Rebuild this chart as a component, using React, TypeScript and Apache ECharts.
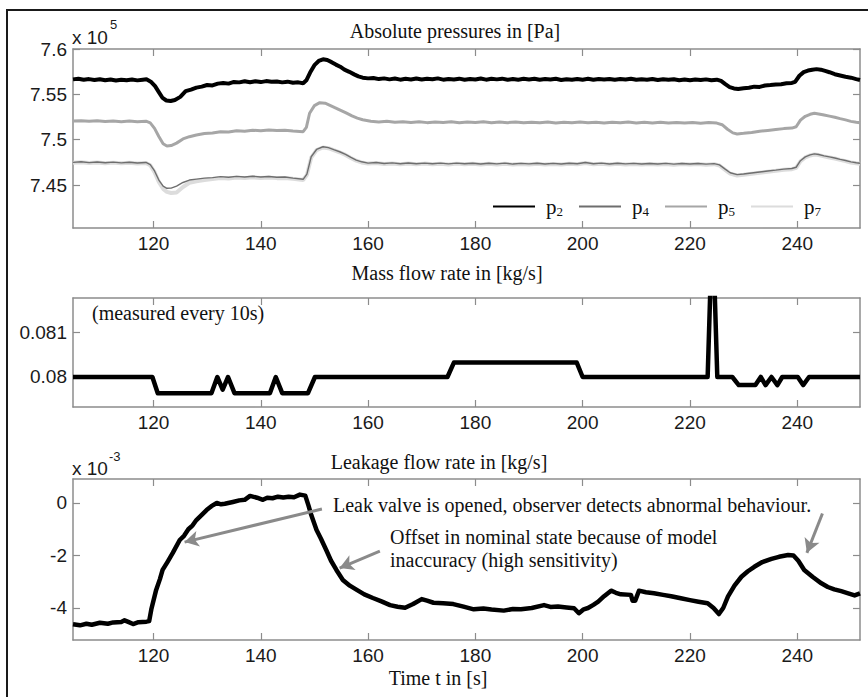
import React, { useEffect, useRef } from "react";
import * as echarts from "echarts";

// ---------- data ----------
const timeTicks = [120, 140, 160, 180, 200, 220, 240];
const pressureTicks = [7.45, 7.5, 7.55, 7.6];
const flowTicks = [0.08, 0.081];
const leakTicks = [-4, -2, 0];

const seriesNames = ["p2", "p4", "p5", "p7"];

// absolute pressures (x 10^5 Pa)
const p2: [number, number][] = [
  [105, 7.5665], [106, 7.5672], [107, 7.566], [108, 7.5668], [109, 7.5659], [110, 7.5667], [111, 7.5656], [112, 7.5664],
  [113, 7.5652], [114, 7.5661], [115, 7.5655], [116, 7.5663], [117, 7.5654], [118, 7.5662], [118.7, 7.5666], [119.5, 7.564],
  [120.3, 7.559], [121, 7.5525], [121.7, 7.546], [122.4, 7.5432], [123.2, 7.5426], [124, 7.5438], [125, 7.5472], [126, 7.5535],
  [127, 7.5552], [128, 7.5574], [129, 7.5585], [130, 7.5603], [131, 7.5598], [132, 7.5618], [133, 7.5626], [134, 7.5618],
  [135, 7.5637], [136, 7.5632], [137, 7.5645], [138, 7.5633], [139, 7.5644], [140, 7.5635], [141, 7.5646], [142, 7.5638],
  [143, 7.5642], [144, 7.5632], [145, 7.564], [146, 7.5628], [147, 7.5632], [147.9, 7.5622], [148.5, 7.5655], [149.2, 7.574],
  [150, 7.5822], [150.8, 7.5868], [151.6, 7.5886], [152.4, 7.5878], [153.2, 7.5855], [154, 7.5828], [154.8, 7.5805], [155.6, 7.5772],
  [156.5, 7.5748], [157.4, 7.572], [158.2, 7.5698], [159, 7.5684], [160, 7.5676], [161, 7.5681], [162, 7.5668], [163, 7.5676],
  [164, 7.5665], [165, 7.5674], [166, 7.5662], [167, 7.5671], [168, 7.5664], [169, 7.5675], [170, 7.5663], [171, 7.5672],
  [172, 7.5666], [173, 7.5676], [174, 7.5662], [175, 7.567], [176, 7.5664], [177, 7.5673], [178, 7.5661], [179, 7.5668],
  [180, 7.5663], [181, 7.5674], [182, 7.5662], [183, 7.5671], [184, 7.5665], [185, 7.5673], [186, 7.5661], [187, 7.5669],
  [188, 7.5662], [189, 7.5671], [190, 7.5664], [191, 7.5672], [192, 7.566], [193, 7.5668], [194, 7.5663], [195, 7.5671],
  [196, 7.5659], [197, 7.5667], [198, 7.5661], [199, 7.567], [200, 7.5662], [201, 7.5671], [202, 7.566], [203, 7.5669],
  [204, 7.5663], [205, 7.567], [206, 7.5661], [207, 7.5668], [208, 7.5664], [209, 7.5672], [210, 7.566], [211, 7.5667],
  [212, 7.5662], [213, 7.567], [214, 7.5658], [215, 7.5666], [216, 7.566], [217, 7.5667], [218, 7.5656], [219, 7.5663],
  [220, 7.5655], [221, 7.5664], [222, 7.5657], [223, 7.5665], [224, 7.5656], [225, 7.5662], [225.8, 7.5648], [226.6, 7.5612],
  [227.4, 7.558], [228.2, 7.5565], [229, 7.5558], [230, 7.5566], [231, 7.5572], [232, 7.5585], [233, 7.5582], [234, 7.5598],
  [235, 7.5602], [236, 7.5608], [237, 7.5612], [238, 7.5622], [239, 7.5626], [239.6, 7.5638], [240.4, 7.5705], [241.2, 7.5745],
  [242, 7.5762], [242.8, 7.5772], [243.6, 7.5778], [244.4, 7.5772], [245.2, 7.5758], [246, 7.5744], [247, 7.5722], [248, 7.5708],
  [249, 7.5694], [250, 7.5684], [251, 7.5668], [251.7, 7.5658],
];

const p5: [number, number][] = [
  [105, 7.5205], [106.5, 7.521], [108, 7.5202], [109.5, 7.5209], [111, 7.52], [112.5, 7.5207], [114, 7.5199], [115.5, 7.5206],
  [117, 7.5198], [118.6, 7.5204], [119.4, 7.5185], [120.2, 7.5125], [121, 7.5035], [121.8, 7.4955], [122.5, 7.493], [123.3, 7.4935],
  [124.3, 7.4962], [125.5, 7.5008], [126.7, 7.5033], [128, 7.5052], [129.5, 7.5068], [131, 7.5074], [132.5, 7.5088], [134, 7.5085],
  [135.5, 7.5098], [137, 7.5094], [138.5, 7.5105], [140, 7.5098], [141.5, 7.5108], [143, 7.51], [144.5, 7.5105], [146, 7.5095],
  [147.9, 7.5088], [148.5, 7.5135], [149.1, 7.5291], [150, 7.5375], [151, 7.5408], [152, 7.5402], [153, 7.5376], [154, 7.5348],
  [155, 7.532], [156, 7.5292], [157, 7.5262], [158, 7.5238], [159, 7.522], [160.5, 7.5203], [162, 7.5196], [163.5, 7.5203],
  [165, 7.5192], [166.5, 7.5199], [168, 7.519], [169.5, 7.5198], [171, 7.5188], [172.5, 7.5196], [174, 7.519], [175.5, 7.5197],
  [177, 7.5186], [178.5, 7.5195], [180, 7.5189], [181.5, 7.5197], [183, 7.5187], [184.5, 7.5194], [186, 7.5188], [187.5, 7.5196],
  [189, 7.5186], [190.5, 7.5193], [192, 7.5187], [193.5, 7.5195], [195, 7.5185], [196.5, 7.5193], [198, 7.5187], [199.5, 7.5194],
  [201, 7.5186], [202.5, 7.5192], [204, 7.5185], [205.5, 7.5193], [207, 7.5186], [208.5, 7.5194], [210, 7.5185], [211.5, 7.5192],
  [213, 7.5184], [214.5, 7.5191], [216, 7.5184], [217.5, 7.519], [219, 7.5183], [220.5, 7.519], [222, 7.5182], [223.5, 7.5189],
  [225, 7.5183], [226, 7.5165], [227, 7.5115], [228, 7.5075], [228.8, 7.5063], [230, 7.507], [231.5, 7.508], [233, 7.5092],
  [234.5, 7.5102], [236, 7.5112], [237.5, 7.5122], [239, 7.5128], [239.8, 7.5142], [240.6, 7.5215], [241.5, 7.5258], [242.4, 7.528],
  [243.2, 7.5291], [244, 7.5284], [245, 7.5272], [246, 7.526], [247, 7.5248], [248, 7.5232], [249, 7.5218], [250, 7.5202],
  [251, 7.5192], [251.7, 7.5187],
];

const p4: [number, number][] = [
  [105, 7.475], [106.5, 7.4756], [108, 7.4747], [109.5, 7.4754], [111, 7.4745], [112.5, 7.4752], [114, 7.4744], [115.5, 7.4751],
  [117, 7.4743], [118.6, 7.4749], [119.4, 7.4725], [120.2, 7.4655], [121, 7.4555], [121.8, 7.4488], [122.5, 7.4464], [123.3, 7.4466],
  [124.3, 7.4488], [125.5, 7.4528], [126.7, 7.4555], [128, 7.4565], [129.5, 7.4576], [131, 7.4582], [132.5, 7.4592], [134, 7.4586],
  [135.5, 7.4595], [137, 7.4588], [138.5, 7.4596], [140, 7.4589], [141.5, 7.4594], [143, 7.4586], [144.5, 7.4588], [146, 7.4576],
  [147.9, 7.4563], [148.6, 7.462], [149.4, 7.4812], [150.4, 7.4892], [151.6, 7.4922], [152.6, 7.4912], [153.6, 7.489], [154.7, 7.4867],
  [155.8, 7.4838], [156.8, 7.4805], [157.8, 7.4775], [158.8, 7.4756], [160, 7.4742], [161.5, 7.4748], [163, 7.4737], [164.5, 7.4744],
  [166, 7.4735], [167.5, 7.4743], [169, 7.4734], [170.5, 7.4742], [172, 7.4735], [173.5, 7.4741], [175, 7.4733], [176.5, 7.4742],
  [178, 7.4734], [179.5, 7.474], [181, 7.4732], [182.5, 7.474], [184, 7.4733], [185.5, 7.4741], [187, 7.4731], [188.5, 7.4739],
  [190, 7.4733], [191.5, 7.474], [193, 7.4731], [194.5, 7.4739], [196, 7.4732], [197.5, 7.474], [199, 7.4734], [200.5, 7.4748],
  [202, 7.4735], [203.5, 7.4741], [205, 7.4732], [206.5, 7.474], [208, 7.4733], [209.5, 7.4739], [211, 7.4731], [212.5, 7.4738],
  [214, 7.4732], [215.5, 7.4739], [217, 7.473], [218.5, 7.4737], [220, 7.4731], [221.5, 7.4738], [223, 7.473], [224.5, 7.4736],
  [225.5, 7.4722], [226.5, 7.4678], [227.5, 7.4635], [228.8, 7.4615], [230, 7.4622], [231.5, 7.4633], [233, 7.4644], [234.5, 7.4655],
  [236, 7.4664], [237.5, 7.4675], [239, 7.4682], [239.8, 7.4696], [240.6, 7.4768], [241.5, 7.481], [242.4, 7.4832], [243.2, 7.4843],
  [244, 7.4836], [245, 7.4822], [246, 7.481], [247, 7.4798], [248, 7.4783], [249, 7.477], [250, 7.4755], [251, 7.4745], [251.7, 7.474],
];

const p7: [number, number][] = [
  [105, 7.4746], [106.5, 7.4751], [108, 7.4742], [109.5, 7.4749], [111, 7.474], [112.5, 7.4747], [114, 7.4739], [115.5, 7.4746],
  [117, 7.4738], [118.6, 7.4744], [119.4, 7.4718], [120.2, 7.4642], [121, 7.4535], [121.8, 7.4458], [122.5, 7.4425], [123.3, 7.4412],
  [124.3, 7.4418], [125.5, 7.4478], [126.7, 7.4525], [128, 7.4542], [129.5, 7.4556], [131, 7.4565], [132.5, 7.4576], [134, 7.4572],
  [135.5, 7.4582], [137, 7.4576], [138.5, 7.4585], [140, 7.4578], [141.5, 7.4584], [143, 7.4576], [144.5, 7.4578], [146, 7.4568],
  [147.9, 7.4556], [148.6, 7.4612], [149.4, 7.4802], [150.4, 7.4885], [151.6, 7.4914], [152.6, 7.4906], [153.6, 7.4884], [154.7, 7.4861],
  [155.8, 7.4832], [156.8, 7.4798], [157.8, 7.4768], [158.8, 7.4749], [160, 7.4736], [161.5, 7.4742], [163, 7.4731], [164.5, 7.4738],
  [166, 7.4729], [167.5, 7.4737], [169, 7.4728], [170.5, 7.4736], [172, 7.4729], [173.5, 7.4735], [175, 7.4727], [176.5, 7.4736],
  [178, 7.4728], [179.5, 7.4734], [181, 7.4726], [182.5, 7.4734], [184, 7.4727], [185.5, 7.4735], [187, 7.4725], [188.5, 7.4733],
  [190, 7.4727], [191.5, 7.4734], [193, 7.4725], [194.5, 7.4733], [196, 7.4726], [197.5, 7.4734], [199, 7.4728], [200.5, 7.4742],
  [202, 7.4729], [203.5, 7.4735], [205, 7.4726], [206.5, 7.4734], [208, 7.4727], [209.5, 7.4733], [211, 7.4725], [212.5, 7.4732],
  [214, 7.4726], [215.5, 7.4733], [217, 7.4724], [218.5, 7.4731], [220, 7.4725], [221.5, 7.4732], [223, 7.4724], [224.5, 7.473],
  [225.5, 7.4715], [226.5, 7.467], [227.5, 7.4626], [228.8, 7.4605], [230, 7.4613], [231.5, 7.4625], [233, 7.4636], [234.5, 7.4647],
  [236, 7.4657], [237.5, 7.4668], [239, 7.4675], [239.8, 7.469], [240.6, 7.4762], [241.5, 7.4804], [242.4, 7.4826], [243.2, 7.4837],
  [244, 7.483], [245, 7.4816], [246, 7.4804], [247, 7.4792], [248, 7.4777], [249, 7.4764], [250, 7.4749], [251, 7.4739], [251.7, 7.4734],
];

// mass flow rate (kg/s)
const massFlow: [number, number][] = [
  [105, 0.08], [119.8, 0.08], [120.8, 0.07964], [130.8, 0.07964], [131.9, 0.08], [132.9, 0.07972], [133.9, 0.08], [135.1, 0.07964],
  [141.7, 0.07964], [142.8, 0.08], [144, 0.07964], [148.8, 0.07964], [150.1, 0.08], [174.8, 0.08], [176, 0.08032], [198.9, 0.08032],
  [200, 0.08], [223.3, 0.08], [224.2, 0.0835], [225.1, 0.08], [227.9, 0.08], [229.1, 0.07982], [232.2, 0.07982], [233.2, 0.08],
  [234.1, 0.07982], [235.2, 0.08], [236.3, 0.07982], [237.2, 0.08], [240.1, 0.08], [241.1, 0.07982], [242.2, 0.08], [251.7, 0.08],
];

// leakage flow rate (x 10^-3 kg/s)
const leakage: [number, number][] = [
  [105, -4.62], [106.3, -4.66], [107.5, -4.6], [108.5, -4.64], [110, -4.56], [111.5, -4.6], [112.5, -4.55], [114, -4.53],
  [114.6, -4.47], [115.3, -4.53], [116.2, -4.61], [117.2, -4.54], [118.7, -4.52], [119.2, -4.5], [119.6, -4.05], [120.5, -3.31],
  [121.2, -2.9], [121.7, -2.55], [122.6, -2.25], [123.6, -1.9], [124.9, -1.41], [125.7, -1.25], [126.5, -1.0], [127.3, -0.85],
  [128, -0.65], [129, -0.45], [129.9, -0.27], [130.8, -0.12], [131.8, 0], [132.6, -0.05], [133.3, -0.03], [134.8, 0.04],
  [136, 0.1], [137, 0.12], [138, 0.27], [139.3, 0.2], [140.4, 0.12], [141.2, 0.2], [142.2, 0.18], [143.2, 0.24],
  [144.2, 0.21], [145.2, 0.24], [146.2, 0.22], [147.3, 0.32], [148.3, 0.28], [148.9, -0.1], [149.4, -0.45], [150.4, -1.03],
  [151.2, -1.35], [152.2, -1.79], [153.1, -2.2], [154.1, -2.55], [155.3, -2.93], [156.6, -3.15], [157.9, -3.31], [159.3, -3.48],
  [160.9, -3.62], [162.5, -3.75], [164.1, -3.89], [165.5, -3.95], [166.9, -3.99], [168.4, -3.85], [170, -3.66], [171, -3.72],
  [172.2, -3.8], [174, -3.82], [175.9, -3.85], [177.8, -3.95], [179.7, -4.05], [181.5, -4.02], [183, -4.06], [185.3, -4.1],
  [187, -4.04], [188.5, -4.05], [190.5, -4.0], [192.8, -3.89], [194, -3.96], [195.4, -3.94], [197, -3.98], [198.4, -4.01],
  [199.3, -4.2], [200.2, -4.05], [201, -4.0], [202, -3.88], [202.9, -3.76], [204, -3.55], [205.3, -3.34], [206.2, -3.42],
  [207.1, -3.48], [209, -3.5], [209.3, -3.72], [209.8, -3.72], [210.5, -3.34], [211.8, -3.4], [213.3, -3.44], [215, -3.5],
  [216.5, -3.55], [218.3, -3.63], [220, -3.7], [221.6, -3.76], [223.3, -3.82], [224.4, -4.0], [225.4, -4.23], [226.2, -4.0],
  [227.1, -3.56], [228.3, -3.15], [229.6, -2.81], [230.8, -2.6], [232, -2.43], [233.5, -2.25], [235.2, -2.13], [236.6, -2.05],
  [238.3, -1.98], [239.3, -2.0], [240.2, -2.2], [241.3, -2.55], [242.9, -2.82], [244.5, -3.06], [245.7, -3.2], [246.9, -3.29],
  [248.2, -3.36], [249.5, -3.44], [250.7, -3.52], [251.7, -3.44],
];

// annotation arrows [tail, head] in data coordinates of the leakage panel
const arrowLines: [[number, number], [number, number]][] = [
  [[151.4, -0.23], [125.8, -1.49]],
  [[162.2, -1.83], [154.7, -2.48]],
  [[244.7, -0.4], [241.8, -1.9]],
];

// ---------- helpers ----------
const X_MIN = 105;
const X_MAX = 251.7;
const AXIS_COLOR = "#8c8c8c";
const SANS = "'Liberation Sans', Arial, sans-serif";
const SERIF = "'Liberation Serif', 'Times New Roman', serif";

const grids = [
  { left: 73, width: 787, top: 49, height: 179 },
  { left: 73, width: 787, top: 298, height: 109 },
  { left: 73, width: 787, top: 479, height: 161 },
];

function makeX(gridIndex: number, top: boolean) {
  return {
    type: "value",
    gridIndex,
    position: top ? "top" : "bottom",
    min: X_MIN,
    max: X_MAX,
    axisLine: { show: true, onZero: false, lineStyle: { color: AXIS_COLOR, width: 1.5 } },
    axisTick: { show: true, inside: true, length: 7, customValues: timeTicks, lineStyle: { color: AXIS_COLOR, width: 1.2 } },
    axisLabel: top
      ? { show: false }
      : { show: true, customValues: timeTicks, margin: 6, fontFamily: SANS, fontSize: 19, color: "#1a1a1a" },
    splitLine: { show: false },
  };
}

function makeY(gridIndex: number, right: boolean, min: number, max: number, ticks: number[], fmt: (v: number) => string) {
  return {
    type: "value",
    gridIndex,
    position: right ? "right" : "left",
    min,
    max,
    axisLine: { show: true, onZero: false, lineStyle: { color: AXIS_COLOR, width: 1.5 } },
    axisTick: { show: true, inside: true, length: 7, customValues: ticks, lineStyle: { color: AXIS_COLOR, width: 1.2 } },
    axisLabel: right
      ? { show: false }
      : { show: true, customValues: ticks, margin: 6, fontFamily: SANS, fontSize: 19, color: "#1a1a1a", formatter: fmt },
    splitLine: { show: false },
  };
}

function serifText(text: string, x: number, y: number, align: string) {
  return {
    type: "text",
    x,
    y,
    style: { text, fontFamily: SERIF, fontSize: 20, fill: "#111", align, verticalAlign: "middle" },
  };
}

function sansText(text: string, x: number, y: number, size: number) {
  return {
    type: "text",
    x,
    y,
    style: { text, fontFamily: SANS, fontSize: size, fill: "#1a1a1a", align: "left", verticalAlign: "middle" },
  };
}

export default function App() {
  const ref = useRef<HTMLDivElement>(null);

  useEffect(() => {
    if (!ref.current) return;
    const chart = echarts.init(ref.current, undefined, { renderer: "svg" });

    const pFmt = (v: number) => String(parseFloat(v.toFixed(3)));
    const fFmt = (v: number) => String(parseFloat(v.toFixed(4)));
    const lFmt = (v: number) => String(Math.round(v));

    const subName: Record<string, string> = { p2: "2", p4: "4", p5: "5", p7: "7" };

    const option: any = {
      animation: false,
      backgroundColor: "#fff",
      grid: grids,
      xAxis: [makeX(0, false), makeX(0, true), makeX(1, false), makeX(1, true), makeX(2, false), makeX(2, true)],
      yAxis: [
        makeY(0, false, 7.4026, 7.6, pressureTicks, pFmt),
        makeY(0, true, 7.4026, 7.6, pressureTicks, pFmt),
        makeY(1, false, 0.079333, 0.081756, flowTicks, fFmt),
        makeY(1, true, 0.079333, 0.081756, flowTicks, fFmt),
        makeY(2, false, -5.219, 0.914, leakTicks, lFmt),
        makeY(2, true, -5.219, 0.914, leakTicks, lFmt),
      ],
      legend: {
        data: seriesNames,
        left: 487,
        top: 191,
        orient: "horizontal",
        itemWidth: 42,
        itemHeight: 14,
        itemGap: 15,
        selectedMode: false,
        itemStyle: { opacity: 0, borderWidth: 0 },
        formatter: (name: string) => `{p|p}{s|${subName[name]}}`,
        textStyle: {
          padding: [0, 0, 0, 6],
          rich: {
            p: { fontFamily: SERIF, fontSize: 21, color: "#111", lineHeight: 22 },
            s: { fontFamily: SERIF, fontSize: 13, color: "#111", lineHeight: 9, verticalAlign: "bottom" },
          },
        },
      },
      series: [
        {
          name: "p2", type: "line", xAxisIndex: 0, yAxisIndex: 0, data: p2, showSymbol: false, symbol: "none",
          lineStyle: { color: "#000", width: 4 }, itemStyle: { color: "#000" }, z: 4,
        },
        {
          name: "p4", type: "line", xAxisIndex: 0, yAxisIndex: 0, data: p4, showSymbol: false, symbol: "none",
          lineStyle: { color: "#6e6e6e", width: 1.4 }, itemStyle: { color: "#6e6e6e" }, z: 3,
        },
        {
          name: "p5", type: "line", xAxisIndex: 0, yAxisIndex: 0, data: p5, showSymbol: false, symbol: "none",
          lineStyle: { color: "#a6a6a6", width: 3 }, itemStyle: { color: "#a6a6a6" }, z: 2,
        },
        {
          name: "p7", type: "line", xAxisIndex: 0, yAxisIndex: 0, data: p7, showSymbol: false, symbol: "none",
          lineStyle: { color: "#dcdcdc", width: 4 }, itemStyle: { color: "#dcdcdc" }, z: 1,
        },
        {
          name: "mass flow", type: "line", xAxisIndex: 2, yAxisIndex: 2, data: massFlow, showSymbol: false, symbol: "none",
          lineStyle: { color: "#000", width: 4.5, join: "round" }, itemStyle: { color: "#000" }, clip: true,
        },
        {
          name: "leakage", type: "line", xAxisIndex: 4, yAxisIndex: 4, data: leakage, showSymbol: false, symbol: "none",
          lineStyle: { color: "#000", width: 4.5, join: "round" }, itemStyle: { color: "#000" }, clip: true,
          markLine: {
            silent: true,
            animation: false,
            symbol: ["none", "arrow"],
            symbolSize: [12, 14],
            label: { show: false },
            lineStyle: { color: "#8a8a8a", width: 3, type: "solid" },
            data: arrowLines.map(([a, b]) => [{ coord: a }, { coord: b }]),
          },
        },
      ],
      graphic: [
        {
          type: "rect",
          shape: { x: 7, y: 10, width: 900, height: 720 },
          style: { fill: "none", stroke: "#1a1a1a", lineWidth: 2 },
          silent: true,
          z: 100,
        },
        serifText("Absolute pressures in [Pa]", 455, 31, "center"),
        serifText("Mass flow rate in [kg/s]", 447, 273, "center"),
        serifText("Leakage flow rate in [kg/s]", 439, 462, "center"),
        serifText("Time t in [s]", 438, 678, "center"),
        serifText("(measured every 10s)", 92, 313, "left"),
        serifText("Leak valve is opened, observer detects abnormal behaviour.", 333, 505, "left"),
        serifText("Offset in nominal state because of model", 390, 537, "left"),
        serifText("inaccuracy (high sensitivity)", 390, 560, "left"),
        sansText("x 10", 72, 37, 19),
        sansText("5", 110, 24, 13),
        sansText("x 10", 72, 468, 19),
        sansText("-3", 109, 456, 13),
      ],
    };

    chart.setOption(option);
    return () => chart.dispose();
  }, []);

  return (
    <div
      ref={ref}
      style={{ position: "fixed", left: 0, top: 0, width: 868, height: 697, background: "#fff" }}
    />
  );
}
